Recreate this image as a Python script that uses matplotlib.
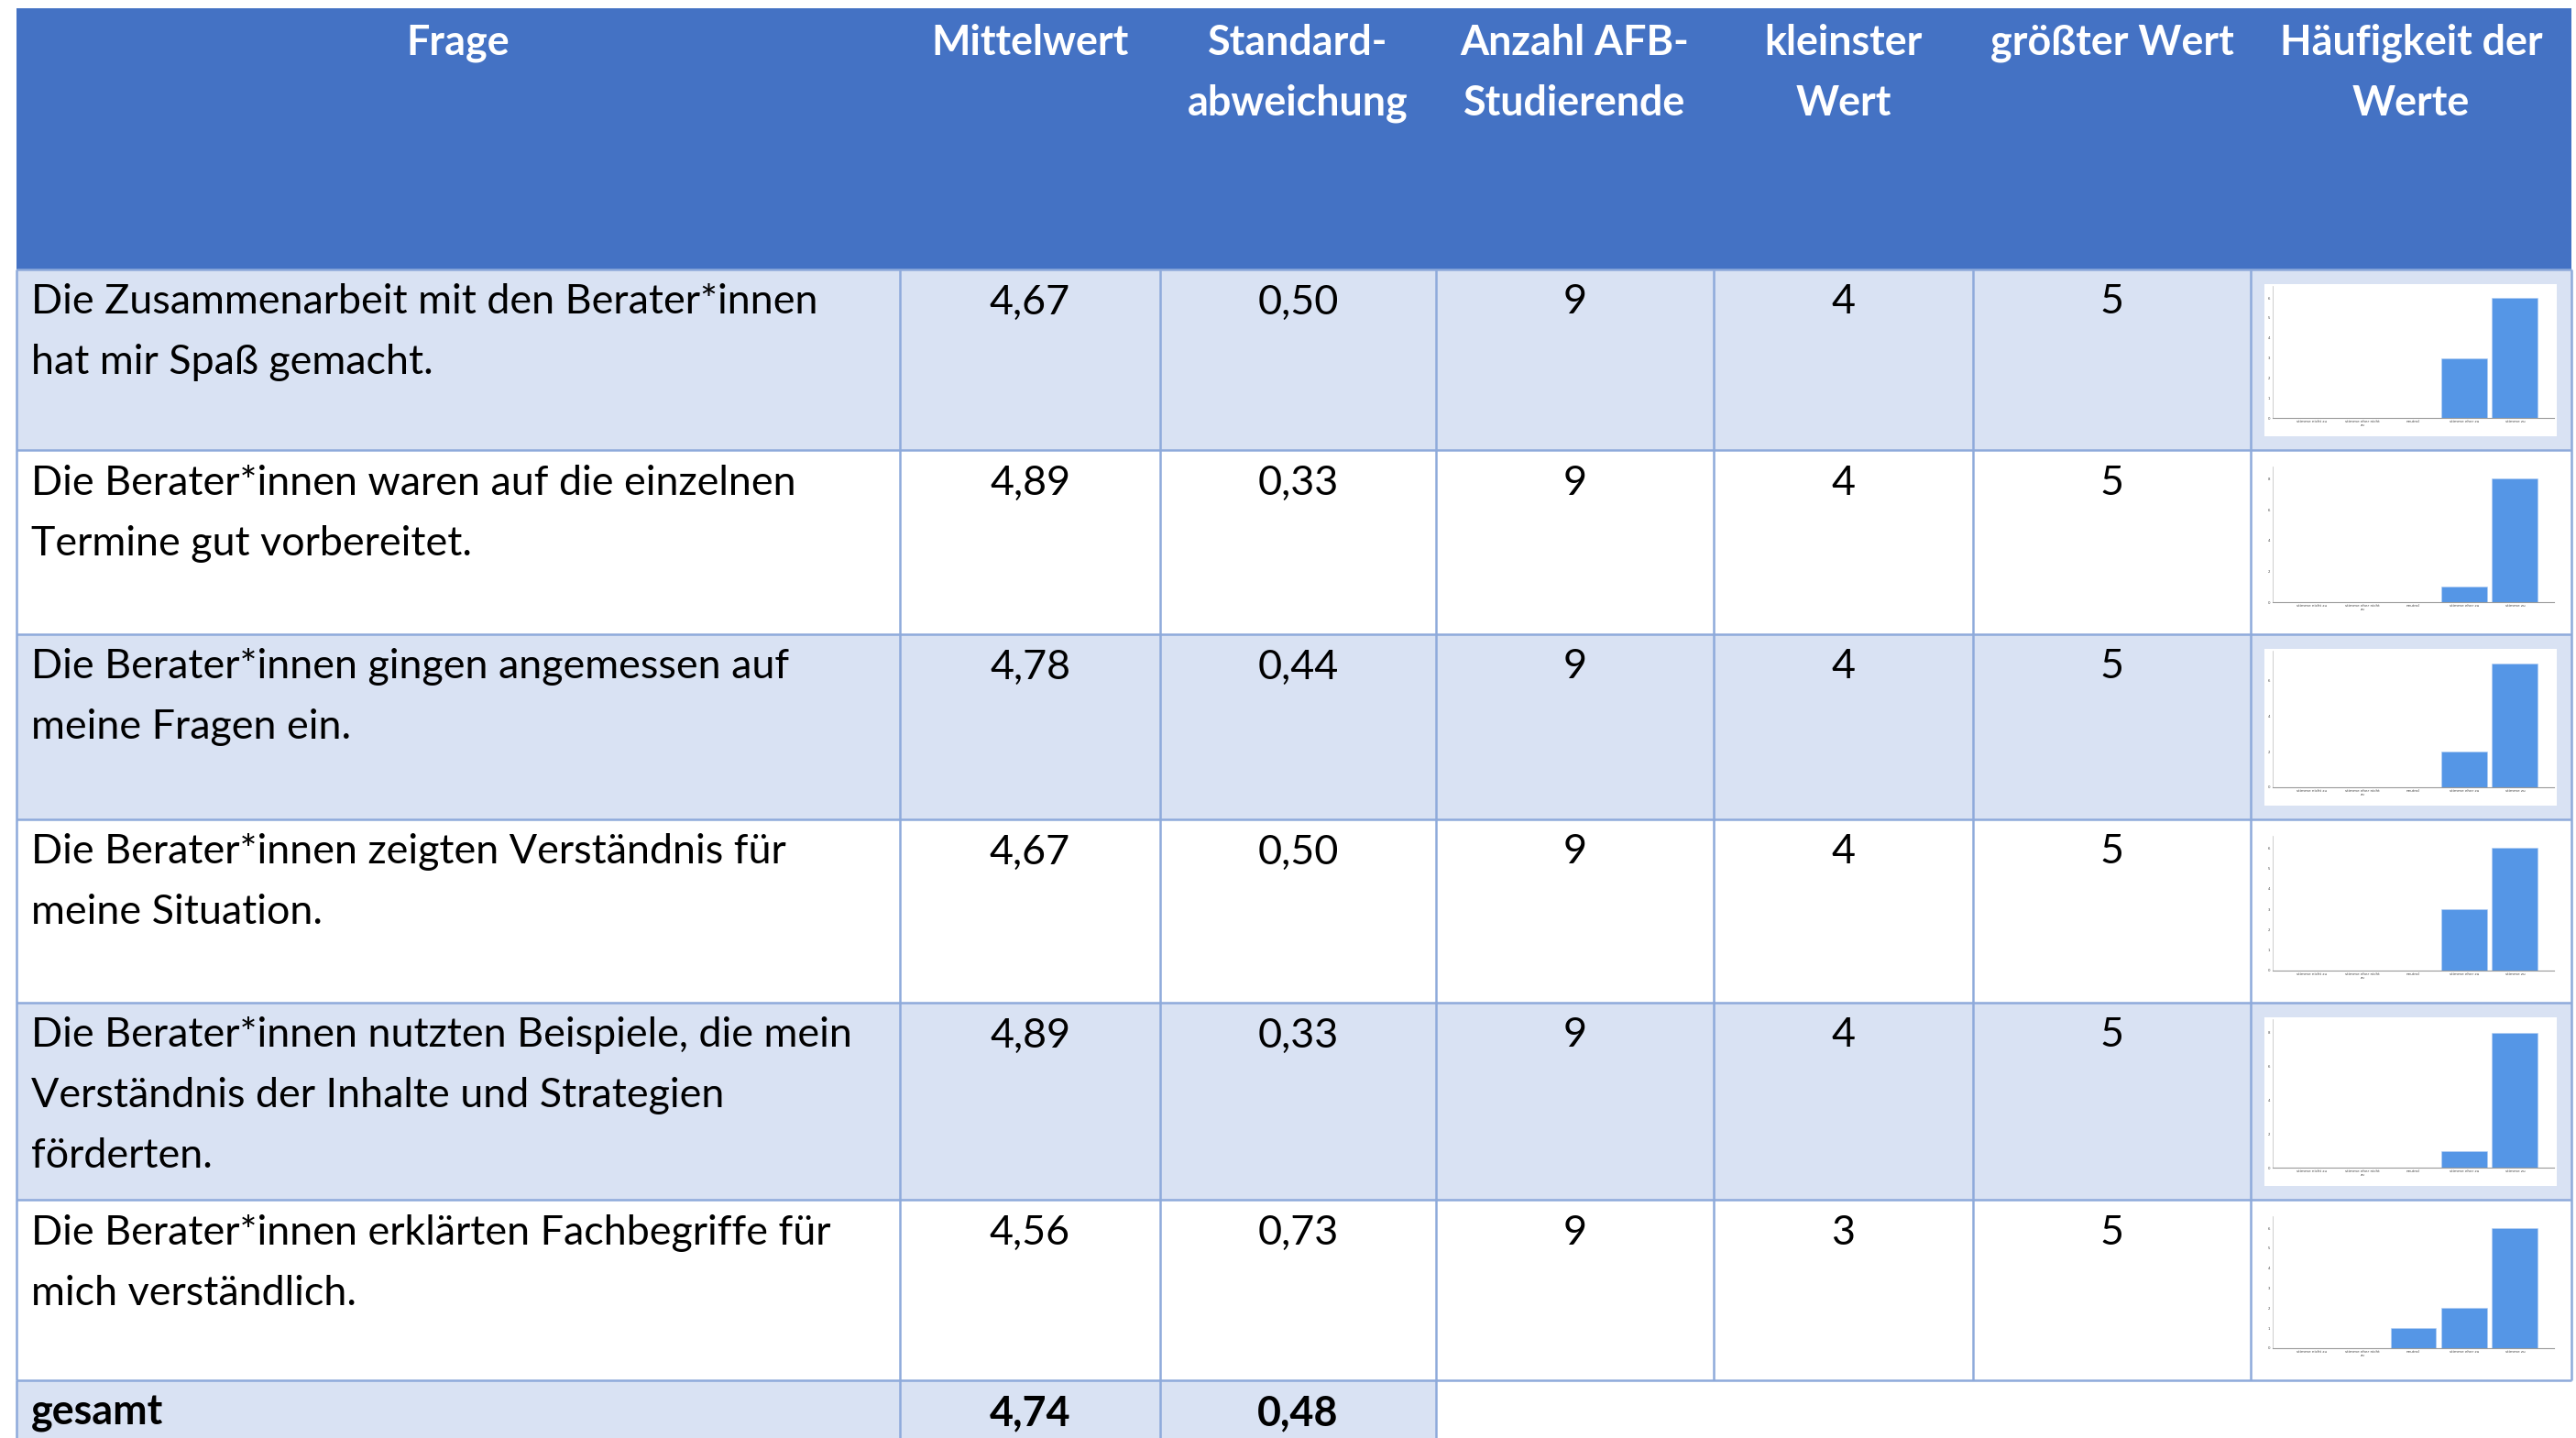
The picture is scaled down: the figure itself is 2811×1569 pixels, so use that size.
import matplotlib
matplotlib.use("Agg")
import matplotlib.pyplot as plt
from matplotlib.patches import Rectangle

# ---------------- data ----------------
headers = [["Frage"], ["Mittelwert"], ["Standard-", "abweichung"],
           ["Anzahl AFB-", "Studierende"], ["kleinster", "Wert"],
           ["größter Wert"], ["Häufigkeit der", "Werte"]]
questions = [
    ["Die Zusammenarbeit mit den Berater*innen", "hat mir Spaß gemacht."],
    ["Die Berater*innen waren auf die einzelnen", "Termine gut vorbereitet."],
    ["Die Berater*innen gingen angemessen auf", "meine Fragen ein."],
    ["Die Berater*innen zeigten Verständnis für", "meine Situation."],
    ["Die Berater*innen nutzten Beispiele, die mein",
     "Verständnis der Inhalte und Strategien", "förderten."],
    ["Die Berater*innen erklärten Fachbegriffe für", "mich verständlich."],
]
means = ["4,67", "4,89", "4,78", "4,67", "4,89", "4,56"]
sds = ["0,50", "0,33", "0,44", "0,50", "0,33", "0,73"]
n_students = [9, 9, 9, 9, 9, 9]
min_vals = [4, 4, 4, 4, 4, 3]
max_vals = [5, 5, 5, 5, 5, 5]
answer_labels = ["stimme nicht zu", "stimme eher nicht\nzu", "neutral",
                 "stimme eher zu", "stimme zu"]
freq = [
    [0, 0, 0, 3, 6],
    [0, 0, 0, 1, 8],
    [0, 0, 0, 2, 7],
    [0, 0, 0, 3, 6],
    [0, 0, 0, 1, 8],
    [0, 0, 1, 2, 6],
]
ytick_steps = [1, 2, 2, 1, 2, 1]
total_label = "gesamt"
total_mean = "4,74"
total_sd = "0,48"

# ---------------- layout / style ----------------
W, H = 2811, 1569
DPI = 100
col_x = [18, 982, 1266, 1567, 1870, 2153, 2456, 2806]
row_y = [9, 294, 491, 692, 894, 1094, 1309, 1506, 1600]
HEADER_BLUE = "#4472C4"
LIGHT = "#D9E2F3"
BORDER = "#8EAADB"
BAR = "#5596E6"
FONT = "Lato"
FS = 32.3
LINE_H = 66
FIRST_OFF = 32

fig = plt.figure(figsize=(W / DPI, H / DPI), dpi=DPI)
ax = fig.add_axes([0, 0, 1, 1])
ax.set_xlim(0, W)
ax.set_ylim(H, 0)
ax.axis("off")

# header
ax.add_patch(Rectangle((col_x[0], row_y[0]), col_x[-1] - col_x[0],
                       row_y[1] - row_y[0], fc=HEADER_BLUE, ec="none"))
for c, lines in enumerate(headers):
    cx = (col_x[c] + col_x[c + 1]) / 2
    for i, t in enumerate(lines):
        ax.text(cx, row_y[0] + 34 + i * LINE_H, t, color="white",
                fontsize=FS, fontweight="bold", family=FONT,
                ha="center", va="center_baseline")

# body rows
for r in range(len(questions)):
    y0, y1 = row_y[r + 1], row_y[r + 2]
    fc = LIGHT if r % 2 == 0 else "white"
    ax.add_patch(Rectangle((col_x[0], y0), col_x[-1] - col_x[0], y1 - y0,
                           fc=fc, ec="none"))
    for i, t in enumerate(questions[r]):
        ax.text(col_x[0] + 16, y0 + FIRST_OFF + i * LINE_H, t, color="black",
                fontsize=FS, family=FONT, ha="left", va="center_baseline")
    vals = [means[r], sds[r], str(n_students[r]), str(min_vals[r]),
            str(max_vals[r])]
    for c, v in enumerate(vals, start=1):
        cx = (col_x[c] + col_x[c + 1]) / 2
        ax.text(cx, y0 + FIRST_OFF, v, color="black", fontsize=FS,
                family=FONT, ha="center", va="center_baseline")

    # mini chart
    bx0 = col_x[6] + 15
    bx1 = col_x[7] - 16
    by0 = y0 + 16
    by1 = y1 - 15
    ax.add_patch(Rectangle((bx0, by0), bx1 - bx0, by1 - by0, fc="white",
                           ec="none"))
    axl = bx0 + 9
    axr = bx1 - 3
    axb = by1 - 20
    axt = by0 + 2
    mini = fig.add_axes([axl / W, 1 - axb / H, (axr - axl) / W,
                         (axb - axt) / H])
    xs = list(range(len(answer_labels)))
    mini.bar(xs, freq[r], width=0.9, color=BAR, edgecolor="#B5CFF2",
             linewidth=0.4)
    mini.set_xlim(-0.77, 4.77)
    top = max(freq[r]) * 1.1
    mini.set_ylim(0, top)
    step = ytick_steps[r]
    mini.set_yticks(list(range(0, int(top) + 1, step)))
    mini.set_xticks(xs)
    mini.set_xticklabels(answer_labels, fontsize=3.0, color="#444444",
                         linespacing=0.9)
    mini.tick_params(axis="y", labelsize=2.8, labelcolor="#444444",
                     length=0, pad=2)
    mini.tick_params(axis="x", length=0, pad=1.5)
    for s in ["top", "right"]:
        mini.spines[s].set_visible(False)
    mini.spines["left"].set_color("#BBBBBB")
    mini.spines["left"].set_linewidth(0.5)
    mini.spines["bottom"].set_color("#999999")
    mini.spines["bottom"].set_linewidth(0.8)
    mini.set_facecolor("white")

# total row
gy0 = row_y[7]
ax.add_patch(Rectangle((col_x[0], gy0), col_x[3] - col_x[0], row_y[8] - gy0,
                       fc=LIGHT, ec="none"))
ax.text(col_x[0] + 16, gy0 + FIRST_OFF, total_label, fontsize=FS,
        fontweight="bold", family=FONT, ha="left", va="center_baseline")
for c, v in [(1, total_mean), (2, total_sd)]:
    cx = (col_x[c] + col_x[c + 1]) / 2
    ax.text(cx, gy0 + FIRST_OFF, v, fontsize=FS, fontweight="bold",
            family=FONT, ha="center", va="center_baseline")

# borders
LW = 1.8
for yy in row_y[1:8]:
    ax.plot([col_x[0], col_x[-1]], [yy, yy], color=BORDER, lw=LW,
            solid_capstyle="butt")
for xx in col_x:
    ax.plot([xx, xx], [row_y[1], row_y[7]], color=BORDER, lw=LW,
            solid_capstyle="butt")
for xx in col_x[:4]:
    ax.plot([xx, xx], [row_y[7], H], color=BORDER, lw=LW,
            solid_capstyle="butt")

fig.savefig("out.png", dpi=DPI)
